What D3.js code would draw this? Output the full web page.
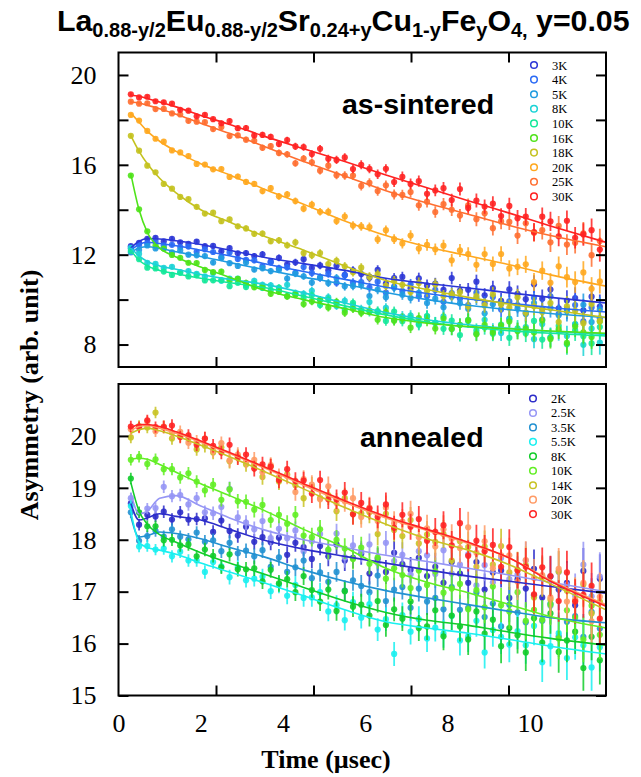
<!DOCTYPE html>
<html>
<head>
<meta charset="utf-8">
<script src="https://cdn.jsdelivr.net/npm/d3@7"></script>
<style>
  body { margin: 0; background: #fff; }
</style>
</head>
<body>
<div class="canvas"></div>
<script>
/*** DATA ***/
// time bins (usec), shared by every run
const times = [0.3,0.5,0.7,0.9,1.1,1.3,1.5,1.7,1.9,2.1,2.3,2.5,2.7,2.9,3.1,3.3,3.5,3.7,3.9,4.1,
  4.3,4.5,4.7,4.9,5.1,5.3,5.5,5.7,5.9,6.1,6.3,6.5,6.7,6.9,7.1,7.3,7.5,7.7,7.9,8.1,
  8.3,8.5,8.7,8.9,9.1,9.3,9.5,9.7,9.9,10.1,10.3,10.5,10.7,10.9,11.1,11.3,11.5,11.7];

// error bars (half length) per bin
const topErr = [0.09,0.09,0.09,0.10,0.10,0.10,0.10,0.11,0.11,0.11,0.11,0.12,0.12,0.12,0.13,0.13,0.14,0.14,0.15,
  0.15,0.16,0.16,0.17,0.17,0.18,0.18,0.19,0.19,0.20,0.20,0.21,0.21,0.22,0.23,0.24,0.25,0.26,0.26,0.27,
  0.28,0.29,0.30,0.31,0.32,0.33,0.35,0.36,0.37,0.38,0.40,0.41,0.43,0.44,0.46,0.48,0.50,0.52,0.54];
const botErr = [0.11,0.11,0.11,0.11,0.12,0.12,0.12,0.12,0.12,0.13,0.13,0.13,0.14,0.14,0.14,0.15,0.15,0.15,0.16,
  0.16,0.17,0.17,0.18,0.18,0.19,0.19,0.20,0.20,0.21,0.21,0.22,0.23,0.23,0.24,0.25,0.25,0.26,0.27,0.27,
  0.28,0.29,0.30,0.31,0.31,0.32,0.33,0.34,0.35,0.36,0.37,0.38,0.39,0.40,0.42,0.43,0.44,0.45,0.47];

// as-sintered runs
const topLabels = ['3K','4K','5K','8K','10K','16K','18K','20K','25K','30K'];
const as3K = [12.38,12.53,12.71,12.75,12.59,12.71,12.55,12.48,12.58,12.38,12.39,12.15,12.29,12.06,12.07,11.94,12.02,11.69,11.86,11.57,
  11.66,11.80,11.41,11.52,11.31,11.51,11.10,11.30,11.14,10.97,11.32,10.71,10.96,11.01,10.51,10.95,10.63,10.71,10.43,10.96,
  10.40,10.44,10.80,10.19,10.51,9.94,10.46,10.26,10.02,10.68,10.04,10.45,9.61,9.96,10.07,9.52,10.13,9.69];
const as4K = [12.28,12.43,12.51,12.61,12.41,12.44,12.34,12.36,12.13,12.24,12.12,11.90,12.10,11.81,11.77,11.75,11.49,11.66,11.40,11.44,
  11.19,11.45,11.18,10.96,11.15,10.75,11.08,10.76,10.78,10.54,10.80,10.31,10.58,10.38,10.68,10.15,10.15,10.43,9.90,10.29,
  10.04,9.75,10.31,9.84,10.12,9.56,9.92,9.76,9.40,10.08,9.59,10.15,9.37,9.59,9.76,9.03,9.65,9.17];
const as5K = [12.10,12.21,12.41,12.28,12.29,12.10,12.19,12.00,11.97,11.94,11.65,11.85,11.62,11.50,11.65,11.34,11.40,11.27,11.32,10.94,
  11.16,11.04,10.76,11.00,10.74,10.96,10.59,10.61,10.65,10.16,10.45,10.11,10.53,10.22,10.07,10.30,9.85,10.04,9.66,10.13,
  9.84,9.59,10.07,9.39,9.79,9.83,9.15,9.60,9.36,9.85,9.11,9.63,9.30,9.48,8.90,9.77,9.00,9.57];
const as8K = [12.30,12.04,11.64,11.59,11.41,11.46,11.22,11.27,11.15,11.03,11.18,10.84,10.93,10.93,10.65,10.84,10.66,10.64,10.44,10.66,
  10.29,10.26,10.39,9.99,10.10,9.72,9.94,9.76,9.57,9.89,9.45,9.63,9.09,9.26,9.29,8.92,9.25,8.97,9.25,8.69,
  8.88,9.04,8.49,9.10,8.62,8.51,9.12,8.61,8.78,8.24,8.91,8.33,8.61,8.38,8.91,7.99,8.71,8.09];
const as10K = [12.17,11.80,11.42,11.39,11.25,11.10,11.19,11.03,11.08,10.85,10.86,10.87,10.60,10.75,10.56,10.72,10.52,10.41,10.53,10.16,
  10.25,10.08,10.19,9.76,10.00,9.85,9.54,9.86,9.47,9.45,9.49,9.05,9.47,9.04,9.19,8.88,9.27,8.96,8.70,9.07,
  8.42,9.10,8.63,8.76,8.48,8.89,8.30,8.72,8.49,9.05,8.22,8.30,8.83,8.01,8.64,8.37,8.05,8.78];
const as16K = [15.52,14.02,13.04,12.41,12.27,11.99,11.86,11.64,11.63,11.32,11.23,11.25,10.85,10.92,10.75,10.55,10.59,10.26,10.35,10.14,
  10.22,9.80,9.92,9.99,9.65,9.90,9.42,9.59,9.42,9.51,9.10,9.44,9.06,9.16,8.75,9.18,9.07,8.71,9.16,8.70,
  8.87,9.08,8.46,8.88,8.54,8.84,9.02,8.60,8.70,8.54,9.07,8.25,8.69,8.07,8.81,8.54,8.33,9.02];
const as18K = [17.29,16.63,15.96,15.67,15.15,14.94,14.57,14.47,14.13,13.83,13.87,13.49,13.57,13.26,13.17,12.93,12.94,12.60,12.64,12.42,
  12.55,12.07,11.97,12.07,11.58,11.73,11.48,11.22,11.42,11.02,11.13,10.61,10.83,10.66,10.34,10.74,10.39,10.68,10.16,10.24,
  10.33,9.70,10.16,9.74,10.24,9.78,9.64,10.11,9.42,9.70,9.45,9.85,9.00,9.70,9.50,8.95,9.80,9.05];
const as20K = [18.22,17.97,17.51,17.16,17.03,16.64,16.55,16.39,16.04,16.01,15.80,15.81,15.46,15.48,15.24,15.15,14.83,14.96,14.60,14.68,
  14.39,14.05,14.23,13.91,13.91,13.50,13.70,13.30,13.26,13.23,12.68,13.09,12.69,12.50,12.85,12.27,12.44,12.24,12.40,11.75,
  12.19,12.03,11.55,12.03,11.59,12.03,11.39,11.46,11.57,10.78,11.29,10.75,11.48,11.00,10.78,11.21,10.48,10.81];
const as25K = [18.81,18.72,18.74,18.48,18.49,18.29,18.24,17.96,17.92,17.90,17.59,17.68,17.28,17.31,17.12,17.07,16.76,16.83,16.53,16.47,
  16.07,16.28,16.11,15.74,15.96,15.54,15.52,15.52,15.06,15.20,14.83,15.09,14.68,14.66,14.79,14.20,14.36,13.90,14.25,14.00,
  13.74,14.20,13.58,13.84,13.18,13.48,13.46,12.85,13.40,12.98,13.09,12.55,13.28,12.45,12.53,12.95,11.98,12.61];
const as30K = [19.14,19.00,19.03,18.83,18.78,18.72,18.45,18.41,18.16,18.22,18.03,17.85,17.95,17.63,17.64,17.31,17.33,17.24,16.93,17.10,
  16.82,16.79,16.48,16.71,16.27,16.22,16.33,15.81,16.00,15.82,15.58,15.82,15.23,15.47,15.15,15.27,14.71,14.86,14.96,14.43,
  14.92,14.08,14.41,14.14,14.27,13.72,14.17,13.62,13.70,13.01,13.69,13.48,12.82,13.51,12.75,12.90,13.09,12.23];

// annealed runs
const botLabels = ['2K','2.5K','3.5K','5.5K','8K','10K','14K','20K','30K'];
const an2K = [18.70,18.29,18.48,18.45,18.54,18.39,18.53,18.39,18.40,18.41,18.15,18.37,18.17,18.08,18.25,17.96,18.05,17.95,18.04,17.71,
  17.94,17.86,17.63,17.88,17.68,17.91,17.60,17.65,17.73,17.35,17.63,17.38,17.75,17.53,17.42,17.65,17.30,17.48,17.17,17.57,
  17.35,17.17,17.57,17.04,17.37,17.41,16.88,17.24,17.06,17.44,16.89,17.29,17.04,17.17,16.74,17.40,16.81,17.25];
const an2_5K = [18.80,18.52,18.60,18.61,19.02,18.84,18.86,18.68,18.80,18.53,18.51,18.63,18.98,18.43,18.33,18.20,18.36,18.03,18.21,18.03,
  18.18,17.78,17.97,18.11,17.79,18.12,17.66,17.89,17.77,17.91,17.55,17.94,17.59,17.71,17.33,17.78,17.70,17.34,17.80,17.35,
  17.52,17.72,17.12,17.51,17.18,17.65,17.24,17.33,17.60,16.92,17.30,16.73,17.38,17.13,16.92,17.52,16.91,17.29];
const an3_5K = [18.53,17.98,18.07,18.17,18.06,18.20,18.06,18.01,18.14,17.96,17.99,17.78,17.94,17.74,17.79,17.68,17.80,17.48,17.66,17.38,
  17.47,17.60,17.26,17.37,17.19,17.38,17.02,17.22,17.11,16.99,17.31,16.82,17.04,17.09,16.69,17.06,16.81,16.88,16.66,17.09,
  16.65,16.69,16.98,16.51,16.77,16.33,16.75,16.60,16.41,16.93,16.44,16.77,16.14,16.42,16.53,16.13,16.61,16.29];
const an5_5K = [18.65,17.87,17.88,17.81,17.83,17.68,17.77,17.60,17.60,17.38,17.57,17.49,17.28,17.47,17.22,17.25,17.29,17.01,17.13,16.92,
  17.13,16.88,16.89,16.99,16.62,16.74,16.45,16.80,16.50,16.76,16.27,16.47,15.80,16.55,16.23,16.47,16.10,16.31,16.19,16.53,
  16.06,16.14,16.44,15.83,16.26,16.13,15.98,16.24,15.97,16.34,15.64,15.95,16.20,15.72,16.12,15.97,15.54,15.93];
const an8K = [19.18,18.53,18.26,18.26,17.99,18.00,17.89,17.91,17.68,17.81,17.69,17.47,17.72,17.43,17.43,17.45,17.20,17.42,17.16,17.24,
  16.99,17.30,17.03,16.81,17.04,16.63,17.01,16.71,16.75,16.54,16.82,16.36,16.66,16.48,16.81,16.30,16.33,16.64,16.14,16.54,
  16.33,16.08,16.62,16.19,16.46,15.95,16.30,16.16,15.83,16.49,16.02,16.58,15.84,16.06,16.23,15.53,16.13,15.68];
const an10K = [19.54,19.60,19.46,19.55,19.36,19.36,19.20,19.28,19.12,18.95,19.06,18.77,18.97,18.74,18.73,18.58,18.67,18.38,18.48,18.31,
  18.48,18.08,18.05,18.20,17.81,18.00,17.83,17.63,17.85,17.54,17.66,17.25,17.45,17.32,17.07,17.41,17.13,17.39,16.98,17.06,
  17.15,16.66,17.03,16.70,17.10,16.74,16.62,16.99,16.44,16.65,16.46,16.75,16.10,16.64,16.50,16.08,16.73,16.17];
const an14K = [19.97,20.19,20.16,20.45,20.17,19.95,20.00,19.96,19.74,19.81,19.68,19.78,19.51,19.61,19.45,19.45,19.21,19.41,19.12,19.26,
  19.05,18.80,19.03,18.80,18.86,18.55,18.80,18.50,18.51,18.53,18.11,18.50,18.19,18.07,18.38,17.93,18.10,17.96,18.11,17.60,
  17.97,17.86,17.48,17.87,17.52,17.88,17.37,17.42,17.51,16.89,17.28,16.85,17.39,17.02,16.83,17.14,16.58,16.81];
const an20K = [20.13,20.16,20.28,20.09,20.18,20.06,20.08,19.87,19.90,19.95,19.71,19.86,19.53,19.64,19.51,19.54,19.30,19.44,19.21,19.23,
  18.92,19.17,19.06,18.78,19.03,18.71,18.74,18.80,18.44,18.62,18.36,18.62,18.32,18.35,18.50,18.05,18.22,17.87,18.20,18.02,
  17.84,18.24,17.75,17.97,17.45,17.70,17.70,17.19,17.61,17.26,17.32,16.89,17.44,16.81,16.85,17.17,16.43,16.90];
const an30K = [20.18,20.17,20.30,20.17,20.17,20.20,19.98,20.01,19.83,19.95,19.81,19.68,19.83,19.58,19.64,19.37,19.45,19.41,19.15,19.36,
  19.13,19.14,18.89,19.15,18.78,18.78,18.91,18.49,18.71,18.60,18.44,18.68,18.23,18.48,18.25,18.40,17.98,18.15,18.28,17.89,
  18.32,17.69,17.98,17.78,17.90,17.48,17.86,17.41,17.48,16.95,17.47,17.30,16.82,17.37,16.81,16.94,17.11,16.48];

// fitted curves, sampled at these times
const fitTimes = [0.3,0.5,0.7,1.0,1.4,2.0,2.7,3.5,4.5,5.5,6.5,7.5,8.5,9.5,10.5,11.85];
const asFit3K  = [12.3,12.6,12.72,12.7,12.62,12.45,12.2,11.9,11.6,11.3,10.95,10.72,10.52,10.3,10.1,9.85];
const asFit4K  = [12.2,12.45,12.55,12.5,12.4,12.2,11.95,11.62,11.25,10.9,10.55,10.27,10.03,9.84,9.65,9.45];
const asFit5K  = [12.1,12.3,12.35,12.28,12.13,11.92,11.65,11.35,11.0,10.68,10.32,10.0,9.75,9.55,9.38,9.2];
const asFit8K  = [12.3,11.95,11.7,11.5,11.35,11.12,10.9,10.7,10.3,9.85,9.42,9.1,8.88,8.72,8.58,8.45];
const asFit10K = [12.2,11.75,11.5,11.3,11.15,10.95,10.75,10.55,10.15,9.72,9.32,9.0,8.78,8.62,8.5,8.38];
const asFit16K = [15.6,14.0,13.0,12.3,11.9,11.45,11.0,10.45,10.0,9.6,9.2,8.95,8.8,8.7,8.6,8.5];
const asFit18K = [17.3,16.6,16.05,15.4,14.75,14.0,13.45,12.85,12.2,11.5,10.85,10.45,10.1,9.8,9.55,9.2];
const asFit20K = [18.3,17.9,17.5,17.05,16.6,16.05,15.55,14.95,14.25,13.5,12.85,12.35,11.95,11.55,11.1,10.6];
const asFit25K = [18.8,18.75,18.65,18.5,18.25,17.85,17.4,16.85,16.15,15.5,14.85,14.3,13.8,13.3,12.85,12.35];
const asFit30K = [19.1,19.05,18.95,18.8,18.58,18.2,17.8,17.3,16.72,16.15,15.55,14.98,14.4,13.85,13.28,12.55];

const anFit2K   = [18.7,18.38,18.42,18.5,18.45,18.38,18.2,18.0,17.82,17.68,17.55,17.42,17.3,17.2,17.1,16.97];
const anFit2_5K = [18.9,18.5,18.55,18.8,18.85,18.65,18.42,18.2,18.0,17.85,17.7,17.58,17.45,17.32,17.18,17.0];
const anFit3_5K = [18.45,18.05,18.08,18.15,18.12,18.02,17.85,17.68,17.42,17.2,17.02,16.88,16.75,16.62,16.5,16.4];
const anFit5_5K = [18.55,17.95,17.85,17.8,17.72,17.55,17.38,17.18,16.92,16.65,16.42,16.3,16.2,16.08,15.95,15.8];
const anFit8K   = [19.1,18.55,18.3,18.1,17.95,17.75,17.55,17.35,17.08,16.82,16.6,16.45,16.35,16.22,16.1,15.97];
const anFit10K  = [19.55,19.57,19.55,19.45,19.3,19.08,18.85,18.58,18.2,17.85,17.45,17.18,16.98,16.75,16.52,16.3];
const anFit14K  = [20.05,20.12,20.15,20.1,20.0,19.82,19.6,19.33,18.98,18.62,18.3,18.02,17.8,17.52,17.15,16.65];
const anFit20K  = [20.1,20.18,20.2,20.15,20.05,19.88,19.66,19.4,19.05,18.72,18.42,18.18,17.93,17.65,17.22,16.75];
const anFit30K  = [20.15,20.22,20.22,20.18,20.08,19.9,19.68,19.42,19.08,18.75,18.45,18.2,17.95,17.65,17.2,16.72];

// axis ticks
const xTickLabels = [0, 2, 4, 6, 8, 10];
const topYTicks = [8, 10, 12, 14, 16, 18, 20];
const botYTicks = [15, 16, 17, 18, 19, 20];

/*** STYLE ***/
const topColors = ['#2b35d6','#2a6af5','#1f9be0','#1bd3d6','#14e89a','#4fe31a','#c4c21f','#ffa81f','#ff6e30','#ff2222'];
const botColors = ['#2c2cc9','#9696f5','#2291d1','#19f0f0','#12cc2a','#62ee24','#c9c324','#ff9b66','#ff2424'];
const serif = "'Liberation Serif', 'Times New Roman', serif";
const sans = "'Liberation Sans', Arial, sans-serif";

/*** SETUP ***/
const svgWidth = 641;
const svgHeight = 777;

const svg = d3.select('.canvas')
  .append('svg')
  .attr('width', svgWidth)
  .attr('height', svgHeight)
  .style('background', '#fff');

const frameLeft = 118.5;
const frameRight = 606;

// x: the labels run 0..~11.85 across the frame, the frame's tick marks split it in five
const x = d3.scaleLinear().domain([0, 11.85]).range([frameLeft, frameRight]);
const xFrame = d3.scaleLinear().domain([0, 10]).range([frameLeft, frameRight]);

const yTop = d3.scaleLinear().domain([7, 21]).range([367, 52.5]);
const yBot = d3.scaleLinear().domain([15, 21]).range([695.5, 384]);

const topSeries = topLabels.map((label, k) => ({
  label, color: topColors[k],
  values: [as3K, as4K, as5K, as8K, as10K, as16K, as18K, as20K, as25K, as30K][k],
  fit: [asFit3K, asFit4K, asFit5K, asFit8K, asFit10K, asFit16K, asFit18K, asFit20K, asFit25K, asFit30K][k]
}));
const botSeries = botLabels.map((label, k) => ({
  label, color: botColors[k],
  values: [an2K, an2_5K, an3_5K, an5_5K, an8K, an10K, an14K, an20K, an30K][k],
  fit: [anFit2K, anFit2_5K, anFit3_5K, anFit5_5K, anFit8K, anFit10K, anFit14K, anFit20K, anFit30K][k]
}));

const drawPanel = (id, y, series, err, yTicks, yFormat, name, nameX, nameY, legendX, legendY, legendStep) => {
  const [yBottom, yTopPx] = y.range();

  svg.append('clipPath').attr('id', id)
    .append('rect')
    .attr('x', frameLeft).attr('y', yTopPx)
    .attr('width', frameRight - frameLeft).attr('height', yBottom - yTopPx);

  const plot = svg.append('g').attr('clip-path', `url(#${id})`);

  // error bars + points
  const groups = plot.selectAll('g.series')
    .data(series)
    .enter().append('g')
      .attr('class', 'series')
      .attr('fill', d => d.color)
      .attr('stroke', d => d.color);

  const pts = d => d.values.map((v, i) => ({t: times[i], v, e: err[i]}));

  groups.selectAll('line')
    .data(pts)
    .enter().append('line')
      .attr('x1', d => x(d.t)).attr('x2', d => x(d.t))
      .attr('y1', d => y(d.v - d.e)).attr('y2', d => y(d.v + d.e))
      .attr('stroke-width', 1.8)
      .attr('stroke-opacity', 0.85);

  groups.selectAll('circle')
    .data(pts)
    .enter().append('circle')
      .attr('cx', d => x(d.t))
      .attr('cy', d => y(d.v))
      .attr('r', 3.1)
      .attr('stroke', 'none')
      .attr('fill-opacity', 0.9);

  // fitted curves on top
  const line = d3.line()
    .x(d => x(d[0]))
    .y(d => y(d[1]))
    .curve(d3.curveMonotoneX);

  plot.selectAll('path.fit')
    .data(series)
    .enter().append('path')
      .attr('class', 'fit')
      .attr('d', d => line(fitTimes.map((t, i) => [t, d.fit[i]])))
      .attr('fill', 'none')
      .attr('stroke', d => d.color)
      .attr('stroke-width', 1.6);

  // frame
  svg.append('rect')
    .attr('x', frameLeft).attr('y', yTopPx)
    .attr('width', frameRight - frameLeft).attr('height', yBottom - yTopPx)
    .attr('fill', 'none')
    .attr('stroke', '#000')
    .attr('stroke-width', 2);

  // ticks point inward on all four sides
  const leftAxis = d3.axisLeft(y).tickValues(yTicks).tickFormat(yFormat)
    .tickSizeInner(-10).tickSizeOuter(0).tickPadding(22);
  const rightAxis = d3.axisRight(y).tickValues(yTicks).tickFormat('')
    .tickSizeInner(-10).tickSizeOuter(0);
  const topAxis = d3.axisTop(xFrame).tickValues([2, 4, 6, 8]).tickFormat('')
    .tickSizeInner(-10).tickSizeOuter(0);
  const bottomAxis = d3.axisBottom(xFrame).tickValues([2, 4, 6, 8]).tickFormat('')
    .tickSizeInner(-10).tickSizeOuter(0);

  const axes = [
    [leftAxis, `translate(${frameLeft},0)`],
    [rightAxis, `translate(${frameRight},0)`],
    [topAxis, `translate(0,${yTopPx})`],
    [bottomAxis, `translate(0,${yBottom})`]
  ];
  axes.forEach(([ax, tr]) => {
    const g = svg.append('g').attr('transform', tr).call(ax);
    g.select('.domain').remove();
    g.selectAll('line').attr('stroke', '#000').attr('stroke-width', 2);
    g.selectAll('text')
      .attr('font-family', serif)
      .attr('font-size', 26)
      .attr('fill', '#000');
  });

  // panel name
  svg.append('text')
    .attr('x', nameX).attr('y', nameY)
    .attr('font-family', sans)
    .attr('font-weight', 'bold')
    .attr('font-size', 28.5)
    .text(name);

  // legend
  const legend = svg.append('g');
  series.forEach((s, i) => {
    legend.append('circle')
      .attr('cx', legendX).attr('cy', legendY + i * legendStep)
      .attr('r', 3.3)
      .attr('fill', 'none')
      .attr('stroke', s.color)
      .attr('stroke-width', 1.5);
    legend.append('text')
      .attr('x', legendX + 18).attr('y', legendY + i * legendStep + 4.5)
      .attr('font-family', serif)
      .attr('font-size', 12.5)
      .text(s.label);
  });
};

drawPanel('clipTop', yTop, topSeries, topErr, topYTicks, d => (d % 4 === 0 ? d : ''),
  'as-sintered', 342, 114, 534, 65, 14.6);
drawPanel('clipBot', yBot, botSeries, botErr, botYTicks, d => d,
  'annealed', 360, 447, 533, 398.5, 14.45);

// x tick labels under the lower panel
const xLabels = svg.append('g')
  .attr('transform', `translate(0,${yBot.range()[0]})`)
  .call(d3.axisBottom(x).tickValues(xTickLabels).tickSize(0).tickPadding(18));
xLabels.select('.domain').remove();
xLabels.selectAll('text')
  .attr('font-family', serif)
  .attr('font-size', 26)
  .attr('fill', '#000');

// axis titles
svg.append('text')
  .attr('x', 326).attr('y', 768)
  .attr('text-anchor', 'middle')
  .attr('font-family', serif)
  .attr('font-weight', 'bold')
  .attr('font-size', 26)
  .text('Time (\u00b5sec)');

svg.append('text')
  .attr('transform', 'translate(38,395) rotate(-90)')
  .attr('text-anchor', 'middle')
  .attr('font-family', serif)
  .attr('font-weight', 'bold')
  .attr('font-size', 26)
  .text('Asymmetry (arb. unit)');

// chemical formula title, subscripts as smaller shifted tspans
const titleParts = [['La', 0], ['0.88-y/2', 1], ['Eu', 0], ['0.88-y/2', 1], ['Sr', 0], ['0.24+y', 1],
  ['Cu', 0], ['1-y', 1], ['Fe', 0], ['y', 1], ['O', 0], ['4,', 1], [' y=0.05', 0]];
const title = svg.append('text')
  .attr('x', 57).attr('y', 31)
  .attr('font-family', sans)
  .attr('font-weight', 'bold')
  .attr('xml:space', 'preserve')
  .style('white-space', 'pre');
let prevSub = 0;
titleParts.forEach(([txt, sub]) => {
  title.append('tspan')
    .attr('dy', sub === prevSub ? 0 : (sub ? 6 : -6))
    .attr('font-size', sub ? 20 : 30.3)
    .text(txt);
  prevSub = sub;
});
</script>
</body>
</html>
